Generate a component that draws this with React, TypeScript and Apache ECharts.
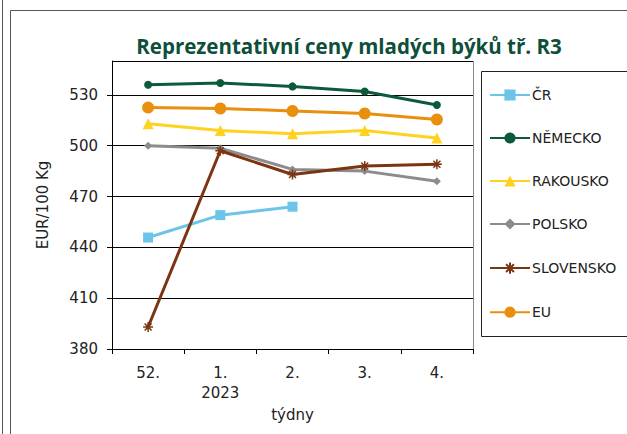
import React, { useEffect, useRef } from "react";
import * as echarts from "echarts";

const categories = ["52.", "1.\n2023", "2.", "3.", "4."];
const yTicks = [380, 410, 440, 470, 500, 530];
const cr = [445.8, 459, 464, null, null];
const nemecko = [536, 537, 535, 532, 524];
const rakousko = [513, 509, 507, 509, 504.5];
const polsko = [500, 498.5, 486, 485, 479];
const slovensko = [393, 497, 483, 488, 489];
const eu = [522.5, 522, 520.5, 519, 515.5];

const star = "path://M5 0L5 10M0 5L10 5M1.5 1.5L8.5 8.5M8.5 1.5L1.5 8.5";

export default function App() {
  const ref = useRef<HTMLDivElement>(null);
  useEffect(() => {
    const chart = echarts.init(ref.current!, null, { renderer: "svg" });
    const font = "DejaVu Sans";
    const mk = (name: string, data: any[], color: string, symbol: string, size: number, extra: any = {}) => ({
      name,
      type: "line",
      data,
      symbol,
      symbolSize: size,
      lineStyle: { color, width: 3 },
      itemStyle: { color },
      ...extra,
    });
    chart.setOption({
      animation: false,
      backgroundColor: "#fff",
      title: {
        text: "Reprezentativní ceny mladých býků tř. R3",
        left: 344,
        top: 30,
        textAlign: "center",
        textStyle: { fontFamily: "Open Sans", fontWeight: "bold", fontSize: 20.5, color: "#0d4f3a" },
      },
      grid: { left: 112, right: 154, top: 61, bottom: 85 },
      xAxis: {
        type: "category",
        data: categories,
        boundaryGap: true,
        axisLine: { lineStyle: { color: "#000", width: 1 } },
        axisTick: { show: true, length: 5, lineStyle: { color: "#000" } },
        axisLabel: { fontFamily: font, fontSize: 15, color: "#222", margin: 14, lineHeight: 20 },
        name: "týdny",
        nameLocation: "middle",
        nameGap: 56,
        nameTextStyle: { fontFamily: font, fontSize: 15, color: "#222" },
      },
      yAxis: {
        type: "value",
        min: 380,
        max: 550,
        interval: 30,
        axisLine: { show: true, lineStyle: { color: "#000", width: 1 } },
        axisTick: { show: true, length: 5, lineStyle: { color: "#000" } },
        splitLine: { lineStyle: { color: "#000", width: 1 } },
        axisLabel: {
          fontFamily: font,
          fontSize: 15,
          color: "#222",
          margin: 14,
          showMaxLabel: false,
          formatter: (v: number) => (yTicks.includes(v) ? String(v) : ""),
        },
        name: "EUR/100 Kg",
        nameLocation: "middle",
        nameGap: 62,
        nameRotate: 90,
        nameTextStyle: { fontFamily: font, fontSize: 15, color: "#222" },
      },
      legend: {
        orient: "vertical",
        left: 489,
        top: 88,
        padding: 0,
        itemGap: 29,
        itemWidth: 40,
        itemHeight: 14,
        textStyle: { fontFamily: font, fontSize: 14, color: "#222", padding: [0, 0, 0, -3] },
        data: ["ČR", "NĚMECKO", "RAKOUSKO", "POLSKO", "SLOVENSKO", "EU"],
      },
      graphic: [
        { type: "line", shape: { x1: 2.5, y1: 0, x2: 2.5, y2: 434 }, style: { stroke: "#555", lineWidth: 1 } },
        { type: "rect", shape: { x: 10.5, y: 10.5, width: 640, height: 440 }, style: { fill: "none", stroke: "#555", lineWidth: 1 }, silent: true },
        { type: "line", shape: { x1: 112, y1: 61.5, x2: 473, y2: 61.5 }, style: { stroke: "#888", lineWidth: 1 } },
        { type: "line", shape: { x1: 473.5, y1: 61, x2: 473.5, y2: 349 }, style: { stroke: "#888", lineWidth: 1 } },
        { type: "rect", shape: { x: 481.5, y: 71.5, width: 160, height: 265 }, style: { fill: "none", stroke: "#222", lineWidth: 1 }, silent: true },
      ],
      series: [
        mk("ČR", cr, "#6cc5e9", "rect", 10),
        mk("NĚMECKO", nemecko, "#0b5a3a", "circle", 8),
        mk("RAKOUSKO", rakousko, "#ffd21f", "triangle", 11),
        mk("POLSKO", polsko, "#8c8c8c", "diamond", 8),
        mk("SLOVENSKO", slovensko, "#7b3512", star, 10, {
          itemStyle: { color: "none", borderColor: "#7b3512", borderWidth: 1.5 },
        }),
        mk("EU", eu, "#e8900e", "circle", 12),
      ],
    });
    return () => chart.dispose();
  }, []);
  return <div ref={ref} style={{ width: 627, height: 434, position: "absolute", left: 0, top: 0 }} />;
}
